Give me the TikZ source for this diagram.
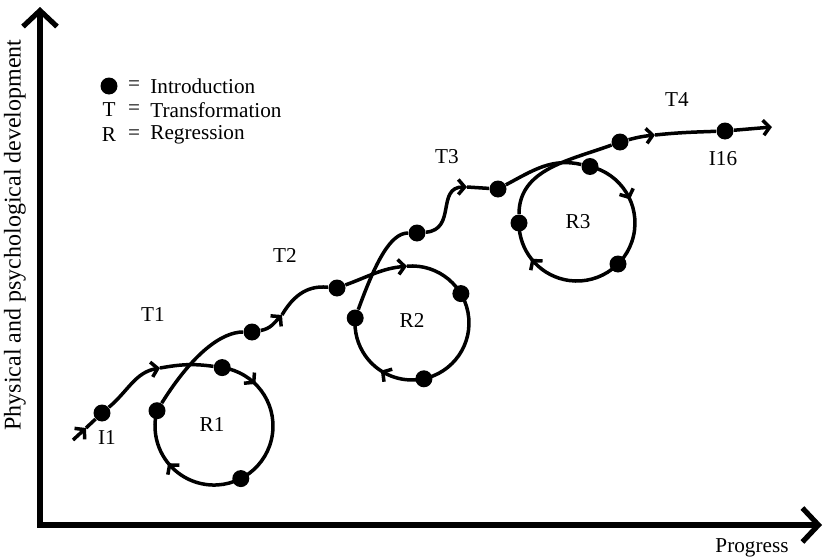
\documentclass[tikz,border=0pt]{standalone}
\usepackage{fontspec}
\setmainfont{Liberation Serif}
\usetikzlibrary{arrows.meta,decorations.markings}
\tikzstyle{dot}=[circle,fill=black,minimum size=8.5pt,inner sep=0pt]
\tikzstyle{curve}=[line width=1.75pt]
\tikzstyle{axis}=[line width=2.6pt]
\tikzstyle{txt}=[font=\fontsize{10.6}{12}\selectfont,inner sep=0pt]
\tikzset{>={Straight Barb[length=3.2pt,width=7.5pt]},
  big/.tip={Straight Barb[length=8pt,width=17pt]},
  mid/.style={postaction={decorate,decoration={markings,mark=at position #1 with {\arrow{>}}}}}}

\begin{document}
\begin{tikzpicture}[x=0.5pt,y=0.5pt]
\useasboundingbox (0,0) rectangle (827,559);
% axes
\coordinate (o) at (40,34);
\coordinate (ytip) at (40,552);
\coordinate (xtip) at (822,34);
\draw[axis,big-big] (ytip) -- (o) -- (xtip);
\node[font=\fontsize{12}{14}\selectfont,rotate=90] (ylab) at (15,324) {Physical and psychological development};
\node[txt] (xlab) at (752,11) {Progress};
% legend
\node[dot] (key1) at (109,473) {};
\node[txt] (eq1) at (134,473) {=};
\node[txt,anchor=west] (def1) at (150,473) {Introduction};
\node[txt] (key2) at (109,449) {T};
\node[txt] (eq2) at (134,449) {=};
\node[txt,anchor=west] (def2) at (150,449) {Transformation};
\node[txt] (key3) at (109,424) {R};
\node[txt] (eq3) at (134,424) {=};
\node[txt,anchor=west] (def3) at (150,424) {Regression};
% points
\coordinate (s0) at (73,119);
\coordinate (a0) at (86,131);
\node[dot] (i1) at (102,146) {};
\coordinate (a1) at (160,191);
\node[dot] (d1) at (222.2,191.4) {};
\node[dot] (d2) at (240.8,80.4) {};
\node[dot] (d3) at (157,148.3) {};
\node[dot] (d4) at (252,227) {};
\coordinate (a2) at (282,244);
\node[dot] (d5) at (337,271) {};
\coordinate (e2) at (407,292.8);
\node[dot] (d6) at (460.9,265.4) {};
\node[dot] (d7) at (423.9,180.2) {};
\node[dot] (d8) at (355.2,241) {};
\node[dot] (d9) at (417,326) {};
\coordinate (a4) at (467,372);
\node[dot] (d10) at (498,370) {};
\node[dot] (d11) at (590,392.5) {};
\node[dot] (d12) at (618,295) {};
\node[dot] (d13) at (519,336) {};
\node[dot] (d14) at (620,417) {};
\coordinate (a5) at (655,424);
\node[dot] (i16) at (725,428) {};
\coordinate (e3) at (772,432);
% path
\draw[curve,->] (s0) -- (a0);
\draw[curve] (a0) -- (i1);
\draw[curve,->] (i1) to[out=40,in=190] (a1);
\draw[curve] (a1) to[out=10,in=172] (d1);
\draw[curve,mid=0.132,mid=0.805] (d1.center) arc[start angle=82,end angle=-195,radius=59];
\draw[curve] (d3) to[out=58,in=180,out looseness=1.4,in looseness=0.5] (d4);
\draw[curve,->] (d4) to[out=10,in=225] (a2);
\draw[curve] (a2) to[out=60,in=175,out looseness=1.5,in looseness=0.6] (d5);
\draw[curve,->] (d5) to[out=20,in=185] (e2);
\draw[curve,mid=0.779] (e2) arc[start angle=95,end angle=-185,radius=57];
\draw[curve] (d8) to[out=70,in=180,out looseness=1.4,in looseness=0.5] (d9);
\draw[curve,->] (d9) to[out=5,in=180,looseness=1.3] (a4);
\draw[curve] (a4) -- (d10);
\draw[curve] (d10) to[out=28,in=167] (d11);
\draw[curve,mid=0.206,mid=0.852] (d11.center) arc[start angle=77,end angle=-180,radius=58];
\draw[curve] (d13) to[out=90,in=200] (d14);
\draw[curve,->] (d14) to[out=15,in=186] (a5);
\draw[curve] (a5) to[out=6,in=182] (i16);
\draw[curve,->] (i16) -- (e3);
% labels
\node[txt] (l1) at (107,121) {I1};
\node[txt] (t1) at (153,244) {T1};
\node[txt] (r1) at (212,134) {R1};
\node[txt] (t2) at (285,304) {T2};
\node[txt] (r2) at (412,239) {R2};
\node[txt] (t3) at (447,402) {T3};
\node[txt] (r3) at (578,337) {R3};
\node[txt] (t4) at (677,459) {T4};
\node[txt] (l16) at (723,400) {I16};
\end{tikzpicture}
\end{document}
